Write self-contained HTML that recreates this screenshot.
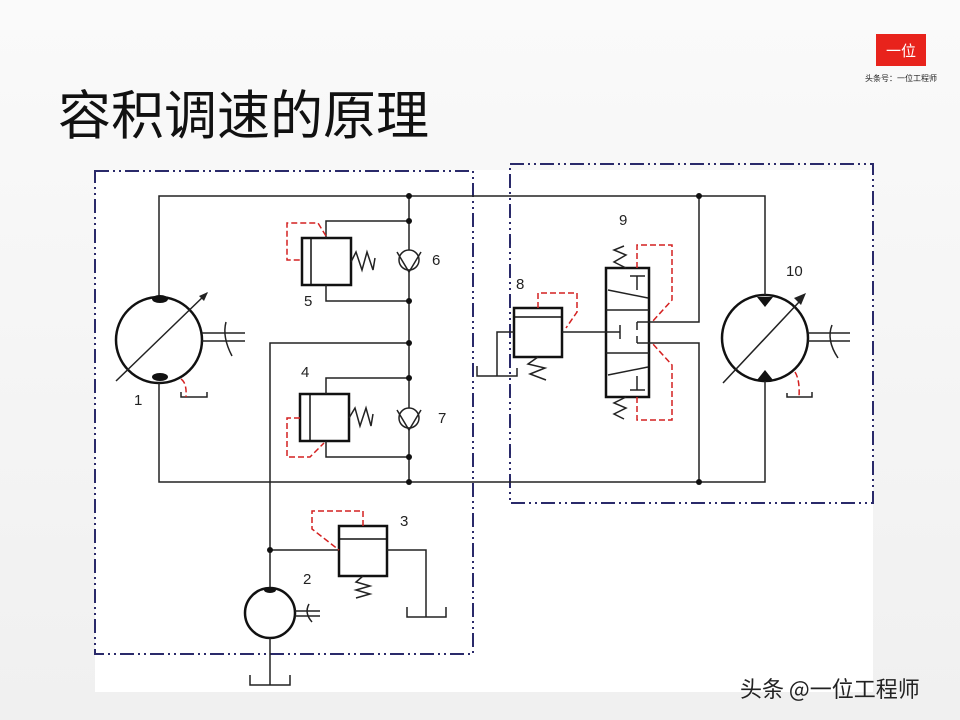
<!DOCTYPE html>
<html><head><meta charset="utf-8"><style>
html,body{margin:0;padding:0;}
body{width:960px;height:720px;overflow:hidden;background:linear-gradient(#fafafa,#f0f0f0);position:relative;font-family:"Liberation Sans","Noto Sans CJK SC",sans-serif;}
</style></head><body>
<svg width="960" height="720" style="position:absolute;left:0;top:0" xmlns="http://www.w3.org/2000/svg">
<rect x="95" y="170" width="778" height="522" fill="#fff"/>
<text x="58" y="134" font-size="53" font-family="Noto Sans CJK SC,sans-serif" fill="#111">容积调速的原理</text>
<rect x="876" y="34" width="50" height="32" fill="#e8231c"/>
<text x="901" y="56" font-size="15" fill="#fff" text-anchor="middle" font-family="Noto Sans CJK SC,sans-serif">一位</text>
<text x="901" y="81" font-size="8" fill="#222" text-anchor="middle" font-family="Noto Sans CJK SC,sans-serif">头条号：一位工程师</text>
<text x="740" y="697" font-size="22" fill="#222" font-family="Noto Sans CJK SC,sans-serif">头条 @一位工程师</text>

<g fill="none" stroke="#2a2a6a" stroke-width="2" stroke-dasharray="14,4,2,4,2,4">
<rect x="95" y="171" width="378" height="483"/>
<rect x="510" y="164" width="363" height="339"/>
</g>

<g stroke="#111" stroke-width="2.5" fill="#fff">
<circle cx="159" cy="340" r="43"/>
<circle cx="765" cy="338" r="43"/>
<circle cx="270" cy="613" r="25"/>
<rect x="302" y="238" width="49" height="47"/>
<rect x="300" y="394" width="49" height="47"/>
<rect x="339" y="526" width="48" height="50"/>
<rect x="514" y="308" width="48" height="49"/>
<rect x="606" y="268" width="43" height="129"/>
</g>

<g stroke="#222" stroke-width="1.5" fill="none">
<polyline points="159,297 159,196 765,196 765,295"/>
<polyline points="159,383 159,482 765,482 765,381"/>
<line x1="409" y1="196" x2="409" y2="482"/>
<polyline points="326,238 326,221 409,221"/>
<polyline points="326,285 326,301 409,301"/>
<polyline points="326,394 326,378 409,378"/>
<polyline points="326,441 326,457 409,457"/>
<polyline points="409,343 270,343 270,588"/>
<line x1="270" y1="638" x2="270" y2="685"/>
<polyline points="250,675 250,685 290,685 290,675"/>
<line x1="270" y1="550" x2="339" y2="550"/>
<polyline points="387,550 426,550 426,617"/>
<polyline points="407,607 407,617 446,617 446,607"/>
<line x1="562" y1="332" x2="620" y2="332"/>
<line x1="620" y1="325" x2="620" y2="339"/>
<polyline points="514,332 497,332 497,376"/>
<polyline points="477,366 477,376 517,376 517,368"/>
<polyline points="649,322 699,322 699,196"/>
<polyline points="649,343 699,343 699,482"/>
<line x1="606" y1="310" x2="649" y2="310"/><line x1="606" y1="353" x2="649" y2="353"/>
<line x1="608" y1="290" x2="648" y2="298"/><line x1="608" y1="375" x2="648" y2="367"/>
<line x1="637" y1="276" x2="637" y2="290"/><line x1="630" y1="276" x2="645" y2="276"/>
<line x1="637" y1="376" x2="637" y2="390"/><line x1="630" y1="390" x2="645" y2="390"/>
<line x1="637" y1="322" x2="637" y2="330"/><line x1="637" y1="322" x2="649" y2="322"/>
<line x1="637" y1="343" x2="637" y2="336"/><line x1="637" y1="343" x2="649" y2="343"/>
<polyline points="351,262 356,252 362,270 367,252 373,270 375,258"/>
<polyline points="349,418 355,408 360,426 366,408 371,426 373,414"/>
<polyline points="363,576 356,582 370,586 356,590 370,594 356,598"/>
<polyline points="538,357 528,364 545,368 530,374 546,380"/>
<polyline points="626,268 614,262 626,255 614,250 624,246"/>
<polyline points="626,397 614,403 626,408 614,414 624,419"/>
<line x1="202" y1="333" x2="245" y2="333"/><line x1="202" y1="341" x2="245" y2="341"/>
<path d="M226,322 Q222,337 232,356"/>
<line x1="808" y1="333" x2="850" y2="333"/><line x1="808" y1="341" x2="850" y2="341"/>
<path d="M832,325 Q826,340 838,358"/>
<line x1="295" y1="611" x2="320" y2="611"/><line x1="295" y1="616" x2="320" y2="616"/>
<path d="M309,604 Q304,613 312,622"/>
<line x1="116" y1="381" x2="207" y2="293"/>
<line x1="723" y1="383" x2="800" y2="301"/>
<polyline points="181,392 181,397 207,397 207,392"/>
<polyline points="787,393 787,397 812,397 812,392"/>
</g>
<polygon points="208,292 199,296 204,301" fill="#222"/>
<polygon points="806,293 794,298 801,305" fill="#222"/>

<g stroke="#111" stroke-width="1.5">
<line x1="311" y1="238" x2="311" y2="285"/>
<line x1="310" y1="394" x2="310" y2="441"/>
<line x1="339" y1="539" x2="387" y2="539"/>
<line x1="514" y1="317" x2="562" y2="317"/>
</g>
<g fill="#fff" stroke="#222" stroke-width="1.5">
<circle cx="409" cy="260" r="10"/><circle cx="409" cy="418" r="10"/>
</g>
<g fill="none" stroke="#222" stroke-width="1.5">
<polyline points="397,252 409,272 421,252"/>
<polyline points="397,410 409,430 421,410"/>
</g>
<g fill="#111">
<ellipse cx="160" cy="299" rx="8" ry="4"/><ellipse cx="160" cy="377" rx="8" ry="4"/>
<polygon points="757,297 773,297 765,307"/><polygon points="757,380 773,380 765,370"/>
<ellipse cx="270" cy="590" rx="6" ry="3"/>
<circle cx="409" cy="196" r="3"/><circle cx="409" cy="221" r="3"/><circle cx="409" cy="301" r="3"/>
<circle cx="409" cy="343" r="3"/><circle cx="409" cy="378" r="3"/><circle cx="409" cy="457" r="3"/>
<circle cx="409" cy="482" r="3"/><circle cx="699" cy="196" r="3"/><circle cx="699" cy="482" r="3"/>
<circle cx="270" cy="550" r="3"/>
</g>

<g stroke="#d42020" stroke-width="1.5" fill="none" stroke-dasharray="6,3">
<polyline points="326,236 318,223 287,223 287,260 302,260"/>
<polyline points="300,418 287,418 287,457 310,457 324,443"/>
<polyline points="363,526 363,511 312,511 312,529 339,550"/>
<polyline points="538,308 538,293 577,293 577,312 566,328"/>
<polyline points="637,268 637,245 672,245 672,300 652,322"/>
<polyline points="637,397 637,420 672,420 672,365 652,343"/>
<path d="M181,379 Q187,383 186,397"/>
<path d="M795,372 Q800,380 799,397"/>
</g>

<g font-family="Liberation Sans,sans-serif" font-size="15" fill="#222">
<text x="134" y="405">1</text><text x="303" y="584">2</text><text x="400" y="526">3</text>
<text x="301" y="377">4</text><text x="304" y="306">5</text><text x="432" y="265">6</text>
<text x="438" y="423">7</text><text x="516" y="289">8</text><text x="619" y="225">9</text>
<text x="786" y="276">10</text>
</g>
</svg>
</body></html>
